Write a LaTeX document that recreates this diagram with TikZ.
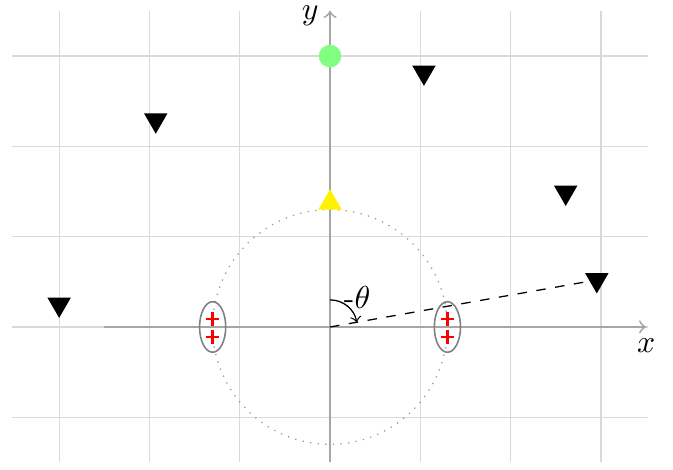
\documentclass[tikz,border=0pt]{standalone}
\usetikzlibrary{shapes.geometric}
\begin{document}
\begin{tikzpicture}[
  gridline/.style={gray!30, line width=0.4pt},
  axis/.style={gray!70, line width=0.6pt, ->},
  tri/.style={regular polygon, regular polygon sides=3, minimum size=0.3cm, inner sep=0pt, draw=none},
  downtri/.style={tri, shape border rotate=180, fill=black},
  uptri/.style={tri, fill=yellow},
  dot/.style={circle, fill=green!50, minimum size=0.25cm, inner sep=0pt},
  lens/.style={ellipse, draw=gray, line width=0.5pt, minimum width=0.29cm, minimum height=0.56cm, inner sep=0pt},
  plussign/.pic={\draw[red, line width=0.75pt] (-0.075,0) -- (0.075,0) (0,-0.075) -- (0,0.075);}
]
\useasboundingbox (-3.655,-1.573) rectangle (3.798,3.621);
\foreach \i in {-3,...,3} \draw[gridline] (\i,-1.5) -- (\i,3.5);
\foreach \j in {-1,...,3} \draw[gridline] (-3.52,\j) -- (3.52,\j);
\draw[gray!80, dotted] (0,0) circle (1.3);
\draw[axis] (-2.5,0) -- (3.5,0) node[below, black] (xl) {$x$};
\draw[axis] (0,-1.5) -- (0,3.5) node[left, black, inner sep=1pt, xshift=-2.3pt, yshift=-1.5pt] (yl) {$y$};
\coordinate (O) at (0,0);
\node[dot] (g) at (0,3) {};
\node[uptri] (ya) at (0,1.375) {};
\node[downtri] (t1) at (-3,0.25) {};
\node[downtri] (t2) at (-1.93,2.29) {};
\node[downtri] (t3) at (1.04,2.82) {};
\node[downtri] (t4) at (2.61,1.49) {};
\node[downtri] (t5) at (10:3) {};
\node[lens] (e1) at (-1.3,0) {};
\node[lens] (e2) at (1.3,0) {};
\pic at (-1.3,0.09) {plussign};
\pic at (-1.3,-0.11) {plussign};
\pic at (1.3,0.09) {plussign};
\pic at (1.3,-0.11) {plussign};
\draw[dashed] (O) -- (t5);
\draw[->] (90:0.3) arc (90:10:0.3);
\node (th) at (0.3,0.33) {-$\theta$};
\end{tikzpicture}
\end{document}
